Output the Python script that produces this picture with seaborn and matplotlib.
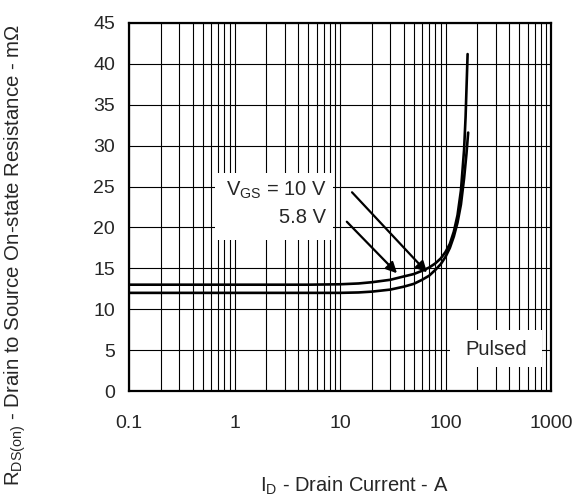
import matplotlib
matplotlib.use("Agg")
import matplotlib.pyplot as plt
from matplotlib.patches import Rectangle
from matplotlib.ticker import LogLocator, FixedLocator, NullFormatter, FixedFormatter
import numpy as np
import pandas as pd
import seaborn as sns

# Drain current (A) and on-state resistance (mOhm) for each gate voltage
id_58v = [0.1, 1, 5, 10, 15, 20, 30, 40, 50, 60, 70, 80, 90, 100, 110, 120, 130, 140, 150, 155, 162]
rds_58v = [13.0, 13.0, 13.0, 13.05, 13.15, 13.3, 13.6, 14.0, 14.3, 14.7, 15.1, 15.6, 16.2, 17.0,
           18.0, 19.5, 21.5, 24.5, 29.5, 33.5, 41.2]
id_10v = [0.1, 1, 5, 10, 15, 20, 30, 40, 50, 60, 70, 80, 90, 100, 110, 120, 130, 140, 150, 158, 164]
rds_10v = [12.0, 12.0, 12.0, 12.0, 12.05, 12.15, 12.4, 12.75, 13.1, 13.6, 14.1, 14.8, 15.5, 16.4,
           17.5, 18.9, 20.6, 22.8, 26.0, 29.0, 31.6]

x_ticks = [0.1, 1, 10, 100, 1000]
x_tick_labels = ["0.1", "1", "10", "100", "1000"]
y_ticks = [0, 5, 10, 15, 20, 25, 30, 35, 40, 45]

df = pd.concat([
    pd.DataFrame({"ID": id_58v, "RDS": rds_58v, "VGS": "5.8 V"}),
    pd.DataFrame({"ID": id_10v, "RDS": rds_10v, "VGS": "10 V"}),
])

sns.set_style("white")
plt.rcParams["font.family"] = ["Liberation Sans", "DejaVu Sans"]
plt.rcParams["mathtext.fontset"] = "custom"
plt.rcParams["mathtext.rm"] = "Liberation Sans"
plt.rcParams["mathtext.it"] = "Liberation Sans"

fig = plt.figure(figsize=(5.74, 4.99), dpi=100)
ax = fig.add_axes([129 / 574, 1 - 391 / 499, 422 / 574, 368 / 499])

sns.lineplot(data=df, x="ID", y="RDS", units="VGS", estimator=None, color="black",
             linewidth=1.9, ax=ax, zorder=4, legend=False)

ax.set_xscale("log")
ax.set_xlim(0.1, 1000)
ax.set_ylim(0, 45)
ax.xaxis.set_major_locator(FixedLocator(x_ticks))
ax.xaxis.set_major_formatter(FixedFormatter(x_tick_labels))
ax.xaxis.set_minor_locator(LogLocator(base=10, subs=np.arange(2, 10)))
ax.xaxis.set_minor_formatter(NullFormatter())
ax.set_yticks(y_ticks)

ax.grid(which="major", axis="both", color="black", linewidth=0.8, zorder=1)
ax.grid(which="minor", axis="x", color="black", linewidth=0.8, zorder=1)
ax.set_axisbelow(True)
ax.tick_params(axis="both", which="both", length=0, labelsize=14)
ax.tick_params(axis="x", pad=17)
ax.tick_params(axis="y", pad=10)
for s in ax.spines.values():
    s.set_linewidth(1.6)
    s.set_color("black")
    s.set_zorder(6)
ax.set_xlabel("")
ax.set_ylabel("")

# white panels behind the annotations
ax.add_patch(Rectangle((0.204, 0.410), 0.279, 0.182, transform=ax.transAxes,
                       facecolor="white", edgecolor="none", zorder=2))
ax.add_patch(Rectangle((0.761, 0.065), 0.218, 0.101, transform=ax.transAxes,
                       facecolor="white", edgecolor="none", zorder=2))

ax.text(0.468, 0.531, r"V$_{\rm GS}$ = 10 V", transform=ax.transAxes, ha="right",
        va="baseline", fontsize=14.5, zorder=5)
ax.text(0.468, 0.4565, "5.8 V", transform=ax.transAxes, ha="right",
        va="baseline", fontsize=14.5, zorder=5)
ax.text(0.870, 0.114, "Pulsed", transform=ax.transAxes, ha="center",
        va="center", fontsize=14.5, zorder=5)

arrow = dict(arrowstyle="-|>", color="black", lw=1.6, mutation_scale=16, shrinkA=0, shrinkB=0)
ax.annotate("", xy=(66.8, 14.5), xytext=(13.0, 24.3), arrowprops=arrow, zorder=5)
ax.annotate("", xy=(34.7, 14.4), xytext=(11.6, 20.7), arrowprops=arrow, zorder=5)

fig.text(354 / 574, 1 - 486 / 499, r"I$_{\rm D}$ - Drain Current - A", ha="center",
         va="center", fontsize=14.5)
fig.text(15 / 574, 1 - 255 / 499,
         r"R$_{\rm DS(on)}$ - Drain to Source On-state Resistance - m$\Omega$",
         ha="center", va="center", rotation=90, fontsize=14.7)

fig.savefig("out.png", dpi=100)
